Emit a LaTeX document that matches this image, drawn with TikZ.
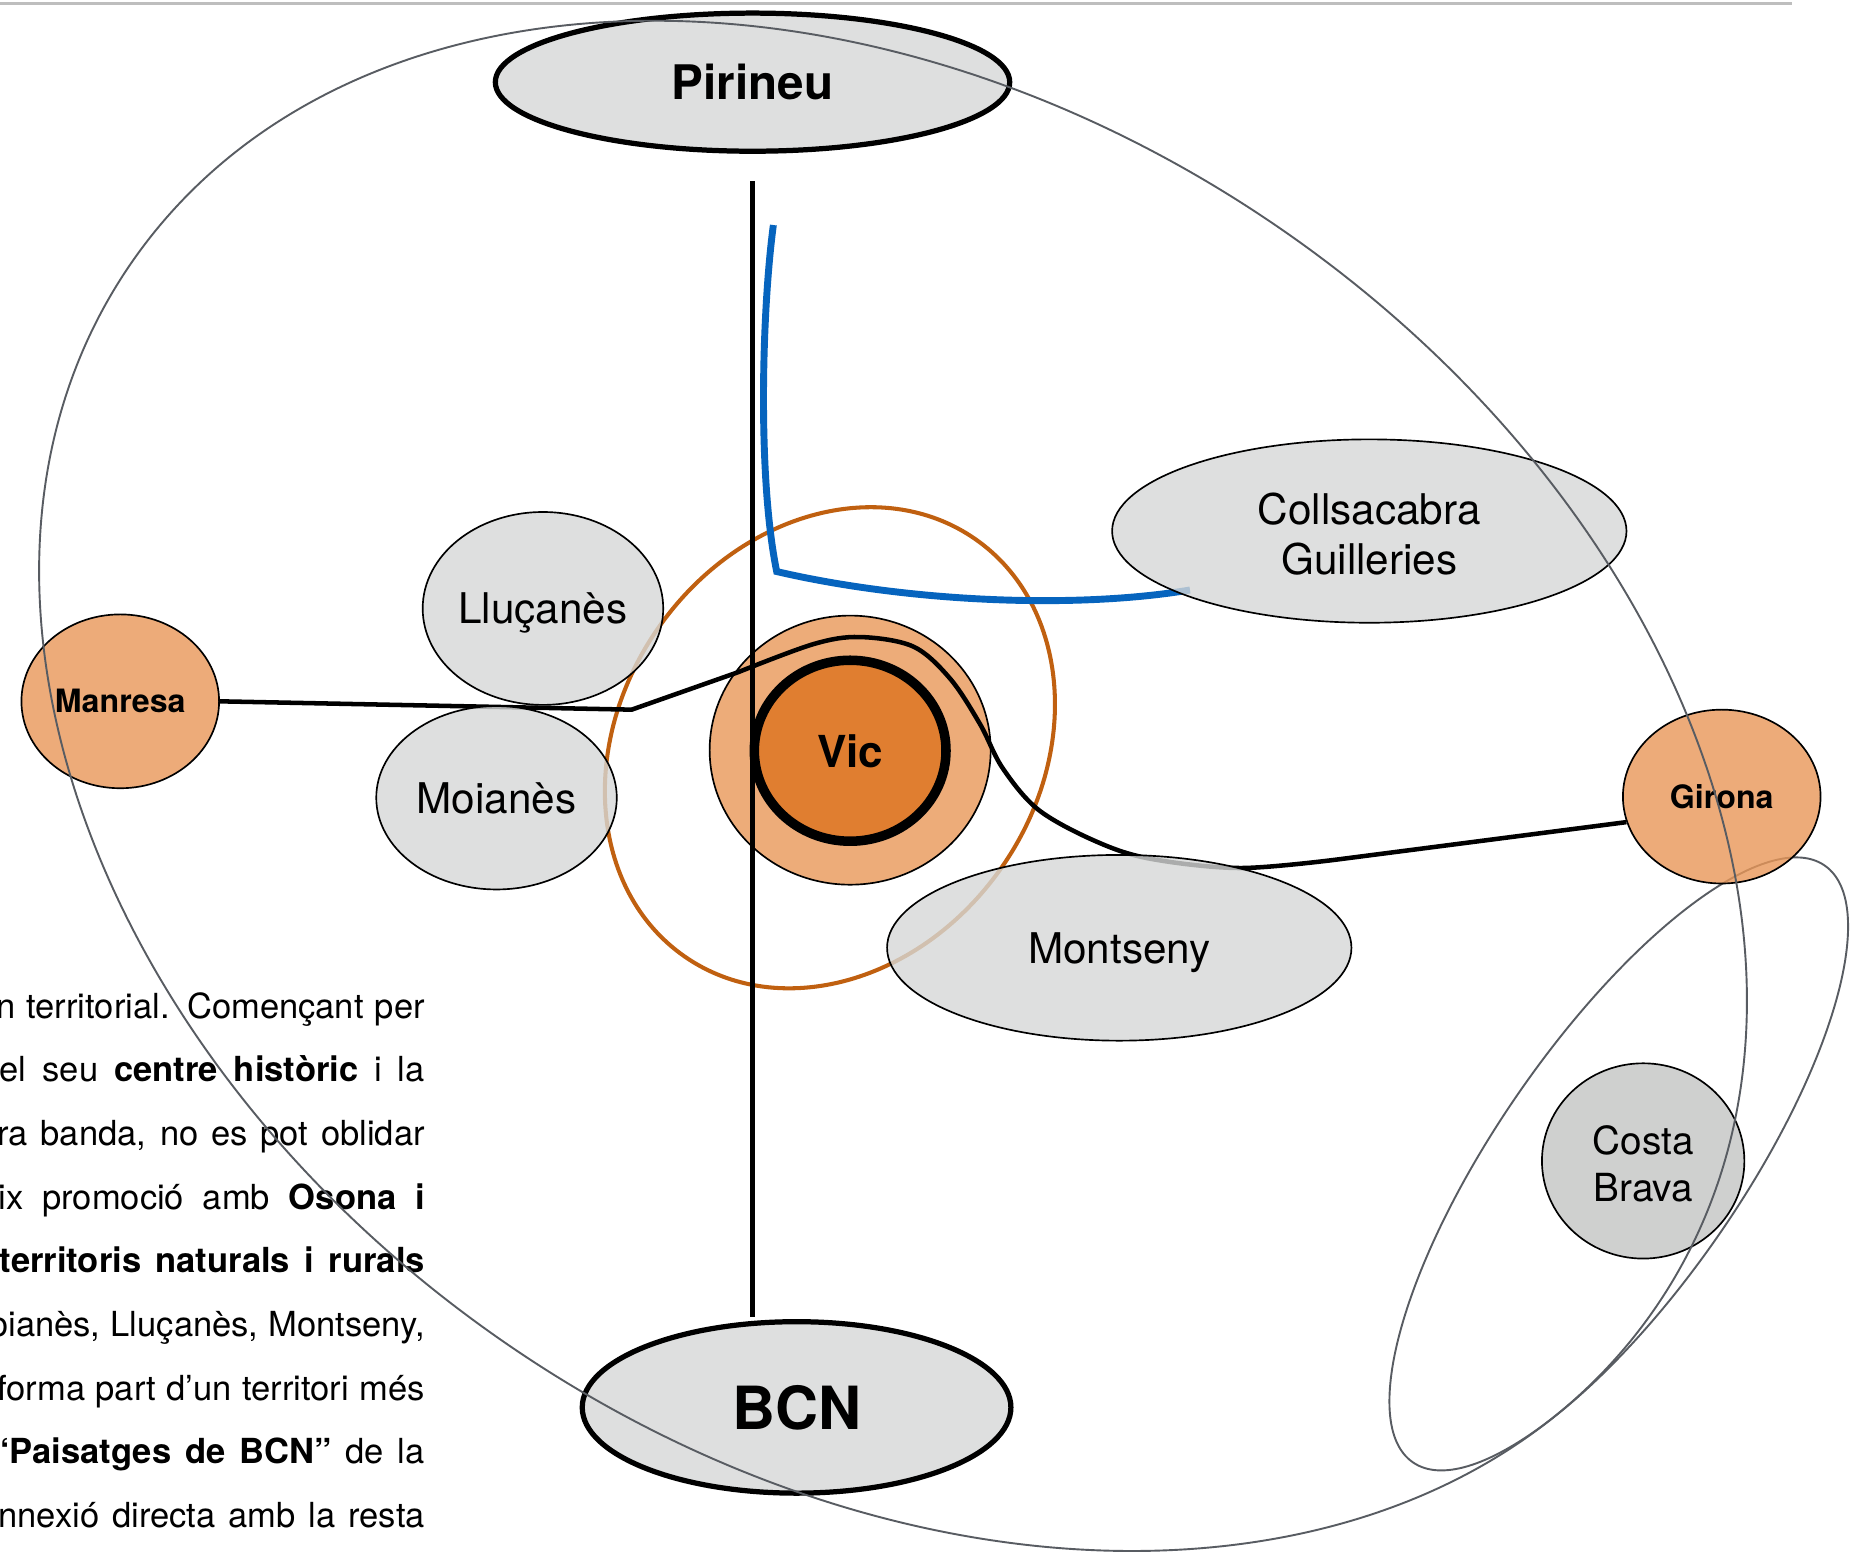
\documentclass[tikz,border=0pt]{standalone}
\usepackage{fontspec}
\setmainfont{TeX Gyre Heros}
\usetikzlibrary{shapes.geometric,calc}

\definecolor{nodegray}{RGB}{214,216,215}
\definecolor{coastgray}{RGB}{195,197,196}
\definecolor{lightorange}{RGB}{233,151,88}
\definecolor{vicouterfill}{RGB}{237,172,121}
\definecolor{vicorange}{RGB}{224,126,48}
\definecolor{ringorange}{RGB}{192,96,16}
\definecolor{routeblue}{RGB}{6,100,190}
\definecolor{outline}{RGB}{88,92,98}
\definecolor{rulegray}{RGB}{190,190,190}

\tikzset{
  region/.style={ellipse, draw=black, line width=1.4pt, fill=nodegray,
    fill opacity=0.8, text opacity=1, inner sep=0pt, align=center,
    font=\fontsize{35.5}{42}\selectfont},
  oneline/.style={text depth=0pt},
  city/.style={ellipse, draw=black, line width=1.4pt, fill=lightorange,
    fill opacity=0.8, text opacity=1, inner sep=0pt,
    font=\bfseries\fontsize{27}{32}\selectfont},
  hub/.style={ellipse, draw=black, line width=4.4pt, fill=nodegray,
    fill opacity=0.8, text opacity=1, inner sep=0pt, font=\bfseries},
  route/.style={draw=black, line width=3.8pt, line join=round},
  axisline/.style={draw=black, line width=3.6pt},
  blueroute/.style={draw=routeblue, line width=5.8pt, line join=miter},
  ringline/.style={draw=ringorange, line width=3.4pt},
  arealine/.style={draw=outline, line width=1.6pt},
  bodytext/.style={anchor=base east, inner sep=0pt,
    font=\fontsize{29}{29}\selectfont},
}

\begin{document}
\begin{tikzpicture}[x=1pt,y=-1pt]
\useasboundingbox (0,0) rectangle (1568,1309);
\fill[white] (0,0) rectangle (1568,1309);

% header rule
\draw[rulegray, line width=2.5pt] (0,3) -- (1505,3);

% justified body text, cut by the left margin
\begin{scope}
\clip (0,0) rectangle (1568,1309);
\node[bodytext] (t1) at (357,855)   {\makebox[360pt][s]{n territorial. Començant per}};
\node[bodytext] (t2) at (357,908.5) {\makebox[357pt][s]{el seu \textbf{centre} \textbf{històric} i la}};
\node[bodytext] (t3) at (357,962)   {\makebox[359pt][s]{ra banda, no es pot oblidar}};
\node[bodytext] (t4) at (357,1015.5){\makebox[358pt][s]{ix promoció amb \textbf{Osona} \textbf{i}}};
\node[bodytext] (t5) at (357,1069)  {\makebox[357pt][s]{\textbf{territoris} \textbf{naturals} \textbf{i} \textbf{rurals}}};
\node[bodytext] (t6) at (357,1122.5){\makebox[390pt][s]{Moianès, Lluçanès, Montseny,}};
\node[bodytext] (t7) at (357,1176)  {\makebox[359pt][s]{forma part d’un territori més}};
\node[bodytext] (t8) at (357,1229.5){\makebox[363pt][s]{\textbf{“Paisatges} \textbf{de} \textbf{BCN”} de la}};
\node[bodytext] (t9) at (357,1283)  {\makebox[358pt][s]{nnexió directa amb la resta}};
\end{scope}

% orange ring around Vic
\draw[ringline, rotate around={55.1:(697,628)}] (697,628) ellipse [x radius=213.6, y radius=175.8];

% blue link towards Collsacabra
\coordinate (blueTop) at (649.5,189);
\coordinate (blueCorner) at (652.3,480);
\coordinate (blueEnd) at (999.4,495.5);
\draw[blueroute] (blueTop) .. controls (640,260) and (636,400) .. (blueCorner)
  .. controls (760,505) and (900,512) .. (blueEnd);

% coastal area outline
\draw[arealine, rotate around={55.4:(1359.5,977.5)}] (1359.5,977.5) ellipse [x radius=304.5, y radius=103];

% Vic
\node[ellipse, draw=black, line width=1.4pt, fill=vicouterfill, minimum width=236pt, minimum height=226pt, inner sep=0pt] (vicouter) at (714,630) {};
\node[ellipse, draw=black, line width=8pt, fill=vicorange, minimum width=161pt, minimum height=152pt, inner sep=0pt, text depth=0pt, font=\bfseries\fontsize{37}{40}\selectfont] (vic) at (714,630.5) {Vic};

% end nodes of the main axis
\node[hub, minimum width=432pt, minimum height=116pt, font=\bfseries\fontsize{40}{44}\selectfont] (pirineu) at (632,69) {Pirineu};
\node[hub, minimum width=360pt, minimum height=144pt, font=\bfseries\fontsize{50}{54}\selectfont] (bcn) at (669,1182) {BCN};

% cities
\node[city, minimum width=166pt, minimum height=146pt] (manresa) at (101,589) {Manresa};
\node[city, minimum width=166pt, minimum height=146pt, text depth=0pt] (girona) at (1446,669) {Girona};

% Manresa -- Vic -- Girona route
\coordinate (bendA) at (530.5,596);
\draw[route] (manresa.east) -- (bendA) -- plot[smooth, tension=0.55] coordinates {
  (620,564.5) (683,541) (722,535) (767,543) (798,570) (823,608) (842,645)
  (872,680) (919,706) (965,721) (1041,729) (1122,722)} -- (girona.195);

% north-south axis
\draw[axisline] ($(pirineu.south)+(0,23)$) -- ($(pirineu.south |- bcn.north)+(0,-2)$);

% surrounding territories
\node[region, oneline, minimum width=202pt, minimum height=162pt] (llucanes) at (456,511) {Lluçanès};
\node[region, oneline, minimum width=202pt, minimum height=154pt] (moianes) at (417,670) {Moianès};
\node[region, minimum width=432pt, minimum height=154pt] (collsacabra) at (1150,446) {\rule{0pt}{32pt}Collsacabra\\Guilleries};
\node[region, oneline, minimum width=390pt, minimum height=156pt] (montseny) at (940,796) {Montseny};
\node[region, fill=coastgray, minimum width=170pt, minimum height=164pt, font=\fontsize{32.5}{40}\selectfont] (costabrava) at (1380,975) {\rule{0pt}{29pt}Costa\\Brava};

% wider territory outline
\draw[arealine, rotate around={-34.3:(750,660)}] (750,660) ellipse [x radius=776, y radius=570];
\end{tikzpicture}
\end{document}
